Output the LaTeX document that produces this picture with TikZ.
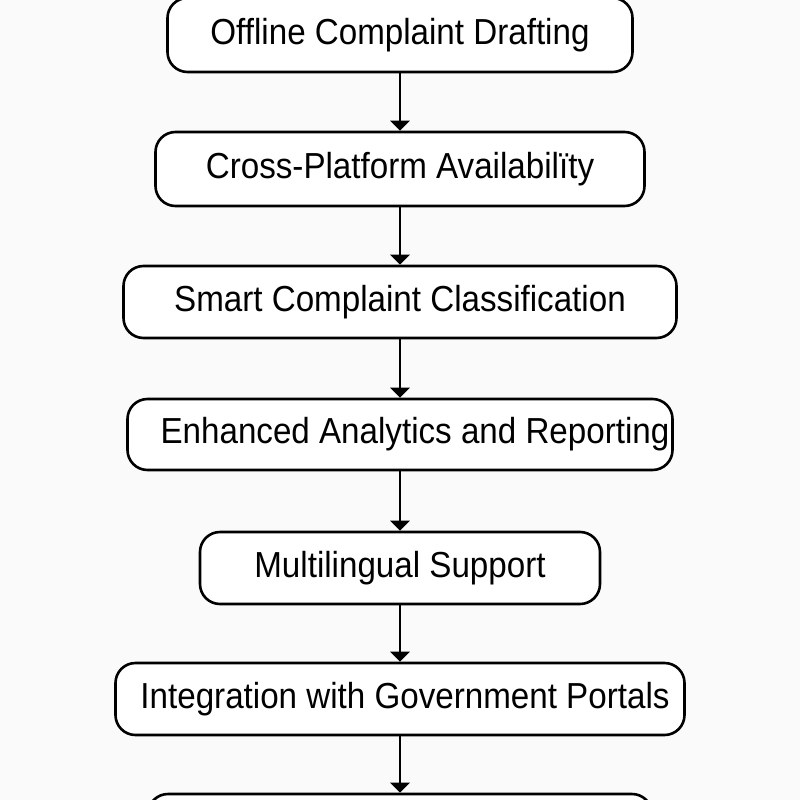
\documentclass[tikz,border=0pt]{standalone}
\usepackage{fontspec}
\setmainfont{Liberation Sans}
\usetikzlibrary{arrows.meta}
\definecolor{bgcol}{RGB}{250,250,250}
\newcommand{\boxtxt}[1]{\raisebox{-2.5pt}{\scalebox{0.99}[1.08]{#1}}}
\tikzset{
  stepbox/.style={draw=black, line width=2.6pt, rounded corners=20pt, fill=white,
    inner sep=0pt, font=\fontsize{33.5}{40}\selectfont},
  flow/.style={draw=black, line width=2.6pt, -{Triangle[width=19pt,length=10pt]}}
}
\begin{document}
\begin{tikzpicture}[x=1pt,y=-1pt]
\fill[bgcol] (0,0) rectangle (800,800);
\useasboundingbox (0,0) rectangle (800,800);
\begin{scope}
\clip (0,0) rectangle (800,800);
\node[stepbox, minimum width=465pt, minimum height=74pt] (b1) at (400,35) {\boxtxt{Offline Complaint Drafting}};
\node[stepbox, minimum width=489pt, minimum height=74pt] (b2) at (400,169) {\boxtxt{Cross-Platform Availabilïty}};
\node[stepbox, minimum width=553pt, minimum height=72pt] (b3) at (400,302) {\boxtxt{Smart Complaint Classification}\hspace{13pt}};
\node[stepbox, minimum width=545pt, minimum height=71pt] (b4) at (400,434.5) {\hspace{30pt}\boxtxt{Enhanced Analytics and Reporting}};
\node[stepbox, minimum width=400pt, minimum height=72pt] (b5) at (400,568) {\boxtxt{Multilingual Support}\hspace{8pt}};
\node[stepbox, minimum width=569pt, minimum height=72pt] (b6) at (400,699) {\hspace{10pt}\boxtxt{Integration with Government Portals}};
\node[stepbox, minimum width=504pt, minimum height=72pt] (b7) at (400,830) {};
\draw[flow] (b1.south) -- (b2.north);
\draw[flow] (b2.south) -- (b3.north);
\draw[flow] (b3.south) -- (b4.north);
\draw[flow] (b4.south) -- (b5.north);
\draw[flow] (b5.south) -- (b6.north);
\draw[flow] (b6.south) -- (b7.north);
\end{scope}
\end{tikzpicture}
\end{document}
